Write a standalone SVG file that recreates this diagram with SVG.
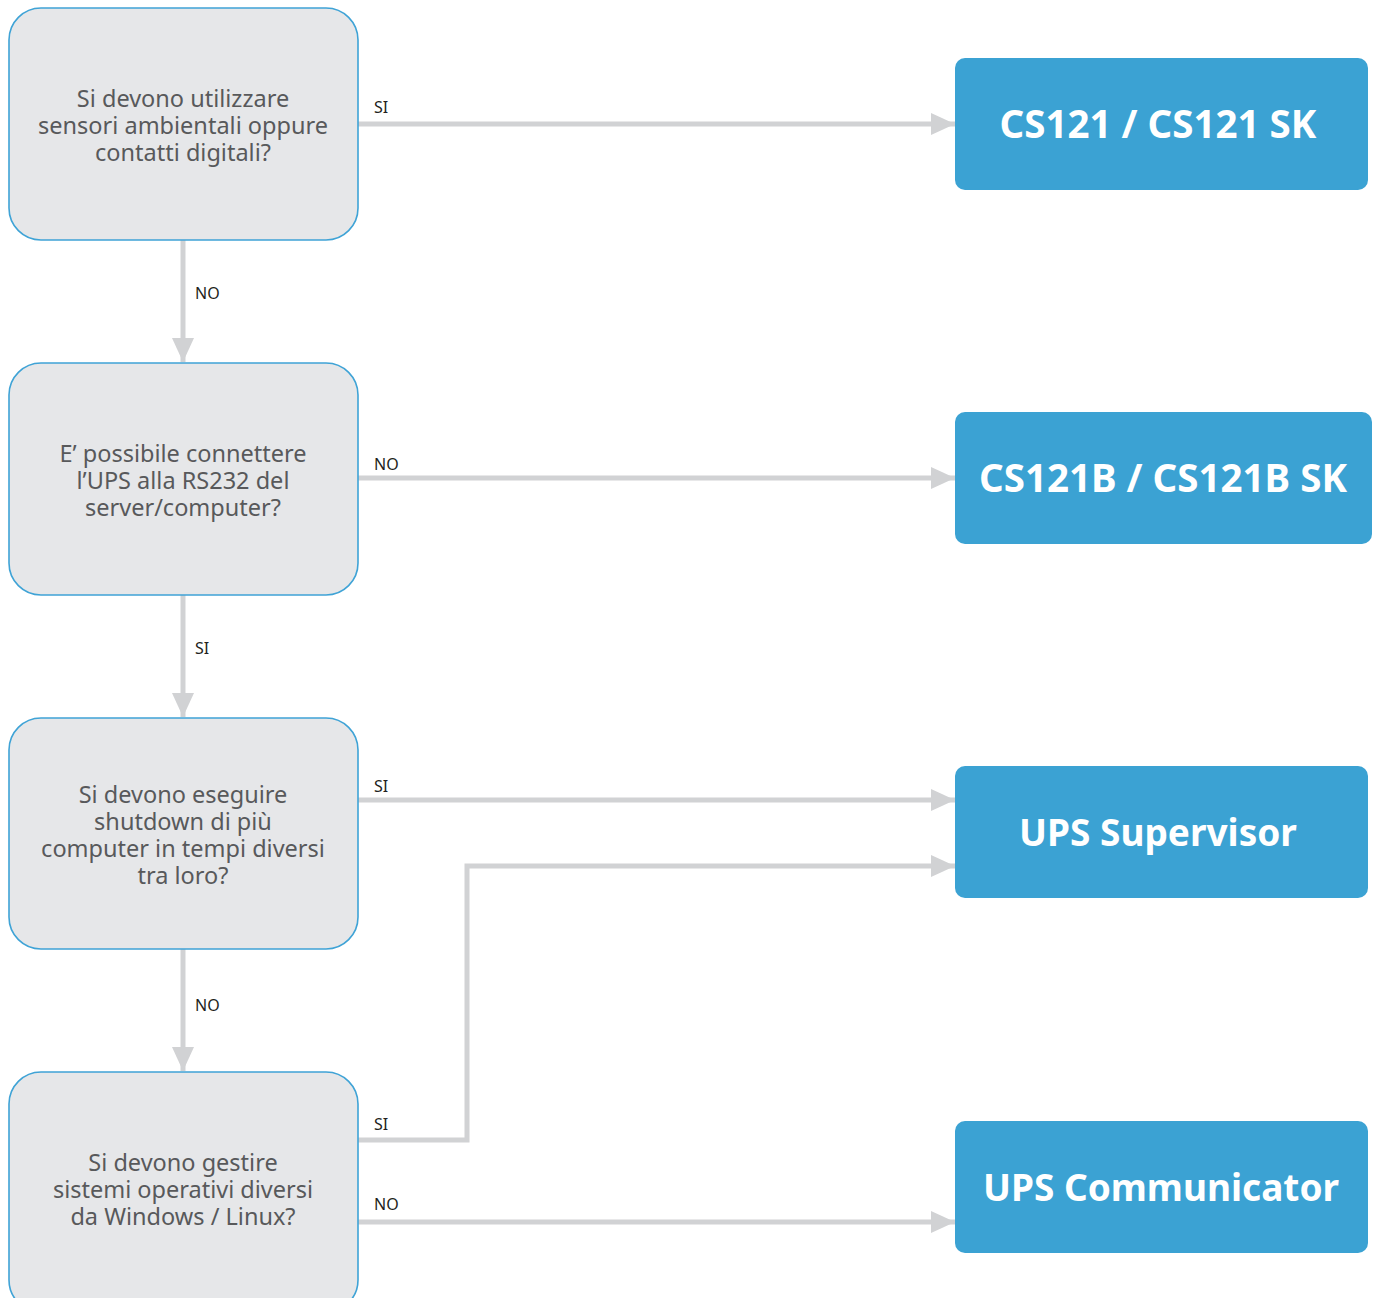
<svg xmlns="http://www.w3.org/2000/svg" width="1380" height="1298" viewBox="0 0 1380 1298">
<defs>
<style>
.q{fill:#e6e7e9;stroke:#3fa3d6;stroke-width:1.6}
.a{fill:#3ba2d3}
.qt{font-family:"Noto Sans","Liberation Sans",sans-serif;font-size:23.5px;fill:#58595b;text-anchor:middle}
.at{font-family:"Noto Sans","Liberation Sans",sans-serif;font-size:37px;font-weight:700;fill:#ffffff;text-anchor:middle}
.lb{font-family:"Noto Sans","Liberation Sans",sans-serif;font-size:16px;fill:#231f20}
.c{fill:none;stroke:#d1d2d4;stroke-width:5}
</style>
<marker id="ah" markerUnits="userSpaceOnUse" markerWidth="24" markerHeight="22" refX="24" refY="11" orient="auto">
<path d="M0,0 L24,11 L0,22 Z" fill="#d1d2d4"/>
</marker>
</defs>
<rect width="1380" height="1298" fill="#ffffff"/>
<g id="connectors">
<path class="c" d="M358,124 H955" marker-end="url(#ah)"/>
<path class="c" d="M183,240 V362" marker-end="url(#ah)"/>
<path class="c" d="M358,478 H955" marker-end="url(#ah)"/>
<path class="c" d="M183,595 V717" marker-end="url(#ah)"/>
<path class="c" d="M358,800 H955" marker-end="url(#ah)"/>
<path class="c" d="M183,949 V1071" marker-end="url(#ah)"/>
<path class="c" d="M358,1140 H467 V866 H955" marker-end="url(#ah)"/>
<path class="c" d="M358,1222 H955" marker-end="url(#ah)"/>
<text class="lb" x="374" y="113">SI</text>
<text class="lb" x="195" y="299">NO</text>
<text class="lb" x="374" y="470">NO</text>
<text class="lb" x="195" y="654">SI</text>
<text class="lb" x="374" y="792">SI</text>
<text class="lb" x="195" y="1011">NO</text>
<text class="lb" x="374" y="1130">SI</text>
<text class="lb" x="374" y="1210">NO</text>
</g>
<g id="q1">
<rect class="q" x="9" y="8" width="349" height="232" rx="32"/>
<text class="qt" x="183" y="107">Si devono utilizzare</text>
<text class="qt" x="183" y="134">sensori ambientali oppure</text>
<text class="qt" x="183" y="161">contatti digitali?</text>
</g>
<g id="q2">
<rect class="q" x="9" y="363" width="349" height="232" rx="32"/>
<text class="qt" x="183" y="462">E’ possibile connettere</text>
<text class="qt" x="183" y="489">l’UPS alla RS232 del</text>
<text class="qt" x="183" y="516">server/computer?</text>
</g>
<g id="q3">
<rect class="q" x="9" y="718" width="349" height="231" rx="32"/>
<text class="qt" x="183" y="803">Si devono eseguire</text>
<text class="qt" x="183" y="830">shutdown di più</text>
<text class="qt" x="183" y="857">computer in tempi diversi</text>
<text class="qt" x="183" y="884">tra loro?</text>
</g>
<g id="q4">
<rect class="q" x="9" y="1072" width="349" height="240" rx="32"/>
<text class="qt" x="183" y="1171">Si devono gestire</text>
<text class="qt" x="183" y="1198">sistemi operativi diversi</text>
<text class="qt" x="183" y="1225">da Windows / Linux?</text>
</g>
<g id="r1">
<rect class="a" x="955" y="58" width="413" height="132" rx="10"/>
<text class="at" x="1158" y="138" style="font-size:38.5px">CS121 / CS121 SK</text>
</g>
<g id="r2">
<rect class="a" x="955" y="412" width="417" height="132" rx="10"/>
<text class="at" x="1163" y="492" style="font-size:38.5px">CS121B / CS121B SK</text>
</g>
<g id="r3">
<rect class="a" x="955" y="766" width="413" height="132" rx="10"/>
<text class="at" x="1158" y="846">UPS Supervisor</text>
</g>
<g id="r4">
<rect class="a" x="955" y="1121" width="413" height="132" rx="10"/>
<text class="at" x="1161" y="1201">UPS Communicator</text>
</g>
</svg>
